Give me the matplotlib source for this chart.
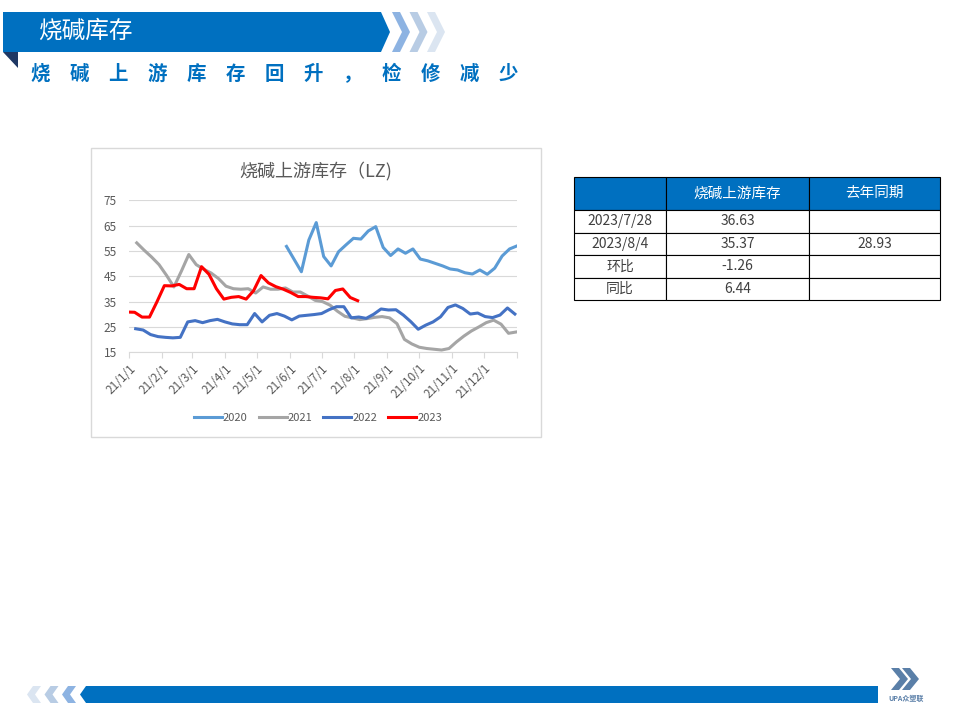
import matplotlib
matplotlib.use("Agg")
import pandas as pd
import matplotlib.pyplot as plt
from matplotlib.patches import Polygon, Rectangle

plt.rcParams['font.family'] = ['Noto Sans CJK SC', 'DejaVu Sans']

#-- data: weekly upstream inventory, every year laid on the 2021 calendar --
years = ['2020', '2021', '2022', '2023']
colors = ['#5B9BD5', '#A5A5A5', '#4472C4', '#FF0000']
starts = ['2021-05-29', '2021-01-08', '2021-01-07', '2020-12-30']

inv_2020 = [56.8, 51.8, 46.8, 59.3, 66.2, 52.8, 49.1, 54.7, 57.4, 60.0,
            59.7, 62.9, 64.6, 56.4, 53.2, 55.8, 54.1, 55.8, 51.8, 51.1,
            50.1, 49.1, 47.9, 47.5, 46.4, 45.9, 47.5, 45.8, 48.2, 53.0,
            55.8, 57.0]
inv_2021 = [58.2, 55.3, 52.6, 49.6, 45.4, 40.8, 47.0, 53.6, 49.6, 47.8,
            46.3, 44.1, 41.1, 40.1, 39.9, 40.1, 38.4, 40.8, 39.9, 39.9,
            40.4, 38.8, 38.8, 37.2, 35.5, 35.0, 33.6, 31.2, 29.2, 28.6,
            27.9, 28.3, 28.8, 29.1, 28.6, 26.3, 20.1, 18.3, 17.0, 16.5,
            16.2, 15.9, 16.5, 19.1, 21.4, 23.4, 25.0, 26.7, 27.7, 26.1,
            22.5, 23.0]
inv_2022 = [24.3, 23.8, 22.0, 21.2, 20.9, 20.7, 20.9, 27.0, 27.5, 26.7,
            27.5, 28.0, 27.0, 26.2, 25.9, 25.9, 30.3, 27.0, 29.6, 30.3,
            29.3, 27.8, 29.3, 29.6, 29.9, 30.3, 31.8, 33.0, 33.0, 28.6,
            28.93, 28.4, 30.0, 32.1, 31.7, 31.8, 29.7, 27.1, 24.1, 25.7,
            27.0, 29.0, 32.7, 33.7, 32.3, 30.1, 30.5, 29.1, 28.7, 29.7,
            32.5, 30.1]
inv_2023 = [30.9, 30.8, 28.9, 28.9, 34.9, 41.3, 41.2, 41.8, 40.1, 40.1,
            48.8, 45.8, 40.1, 36.0, 36.7, 37.0, 36.0, 39.3, 45.3, 42.4,
            40.9, 39.9, 38.6, 37.0, 37.0, 36.7, 36.5, 36.1, 39.4, 40.0,
            36.63, 35.37]
series = [inv_2020, inv_2021, inv_2022, inv_2023]

tbl_cols = ['', '烧碱上游库存', '去年同期']
tbl_rows = [['2023/7/28', '36.63', ''],
            ['2023/8/4', '35.37', '28.93'],
            ['环比', '-1.26', ''],
            ['同比', '6.44', '']]

BLUE = '#0070C0'
GREY_TXT = '#595959'

fig = plt.figure(figsize=(9.6, 7.2), dpi=100)

#-- page decoration, drawn in pixel coordinates --------------------------
bg = fig.add_axes([0, 0, 1, 1], zorder=0)
bg.set_xlim(0, 960)
bg.set_ylim(720, 0)
bg.axis('off')

bg.add_patch(Polygon([(3, 12), (381, 12), (390, 32), (381, 52), (3, 52)],
                     color=BLUE, lw=0))
bg.add_patch(Polygon([(3, 52), (18, 52), (18, 68)], color='#1F3864', lw=0))
for i, c in enumerate(['#8DB3E2', '#B8CCE4', '#DBE5F1']):
    x0 = 392 + i * 17.5
    bg.add_patch(Polygon([(x0, 12), (x0 + 8, 12), (x0 + 18, 32), (x0 + 8, 52),
                          (x0, 52), (x0 + 10, 32)], color=c, lw=0))
bg.text(38, 31, '烧碱库存', color='white', fontsize=17, ha='left', va='center')
bg.text(31, 74, '　'.join('烧碱上游库存回升，检修减少'), color=BLUE,
        fontsize=14, fontweight='bold', ha='left', va='center')

# footer
bg.add_patch(Polygon([(86, 686), (878, 686), (878, 703), (86, 703), (80, 694.5)],
                     color=BLUE, lw=0))
for i, c in enumerate(['#DBE5F1', '#B8CCE4', '#8DB3E2']):
    x0 = 27 + i * 17.5
    bg.add_patch(Polygon([(x0, 694.5), (x0 + 6, 686), (x0 + 14, 686), (x0 + 8, 694.5),
                          (x0 + 14, 703), (x0 + 6, 703)], color=c, lw=0))
for x0 in (891, 902):
    bg.add_patch(Polygon([(x0, 668), (x0 + 8, 668), (x0 + 17, 679), (x0 + 8, 690),
                          (x0, 690), (x0 + 9, 679)], color='#5A7FA8', lw=0))
bg.text(906, 698, 'UPA众塑联', color='#5A7FA8', fontsize=5, fontweight='bold',
        ha='center', va='center')

# chart frame + title
bg.add_patch(Rectangle((91, 148), 450, 289, fill=False, edgecolor='#D9D9D9', lw=1))
bg.text(316, 171, '烧碱上游库存（LZ)', color=GREY_TXT, fontsize=13,
        ha='center', va='center')

#-- line chart ----------------------------------------------------------
ax = fig.add_axes([129.3 / 960, 1 - 352.3 / 720, 387.7 / 960, 152 / 720], zorder=2)
ax.patch.set_alpha(0)
for yr, vals, c, st in zip(years, series, colors, starts):
    dates = pd.date_range(st, periods=len(vals), freq='7D')
    ax.plot(dates, vals, color=c, lw=2.2, label=yr, solid_joinstyle='round')

ax.set_xlim(pd.Timestamp('2021-01-01'), pd.Timestamp('2022-01-01'))
ax.set_ylim(15, 75)
ax.set_yticks(range(15, 76, 10))
ticks = pd.date_range('2021-01-01', '2022-01-01', freq='MS')
ax.set_xticks(ticks)
ax.set_xticklabels(['{}/{}/{}'.format(d.year % 100, d.month, d.day) for d in ticks[:-1]] + [''],
                   rotation=45, ha='right', va='top', rotation_mode='anchor')
ax.grid(axis='y', color='#D9D9D9', lw=0.8)
ax.set_axisbelow(True)
for s in ('top', 'right', 'left'):
    ax.spines[s].set_visible(False)
ax.spines['bottom'].set_color('#D9D9D9')
ax.tick_params(axis='x', length=4, color='#D9D9D9', labelsize=8.5,
               labelcolor=GREY_TXT, pad=3)
ax.tick_params(axis='y', length=0, labelsize=8.5, labelcolor=GREY_TXT, pad=9)

ax.legend(loc='center', bbox_to_anchor=(318 / 960, 1 - 417.7 / 720),
          bbox_transform=fig.transFigure, ncol=4, frameon=False, fontsize=8,
          handlelength=2.5, handletextpad=0.1, columnspacing=1.0,
          labelcolor=GREY_TXT)

#-- summary table ---------------------------------------------------------
tax = fig.add_axes([574 / 960, 1 - 300 / 720, 366 / 960, 123.3 / 720], zorder=2)
tax.axis('off')
tb = tax.table(cellText=[tbl_cols] + tbl_rows, cellLoc='center',
               colWidths=[92, 143, 131], bbox=[0, 0, 1, 1])
tb.auto_set_font_size(False)
for (r, c), cell in tb.get_celld().items():
    cell.set_height(33.3 if r == 0 else 22.5)
    cell.set_edgecolor('black')
    cell.set_linewidth(0.8)
    if r == 0:
        cell.set_facecolor(BLUE)
        cell.get_text().set_color('white')
        cell.get_text().set_fontsize(10.5)
    else:
        cell.get_text().set_color('#404040')
        cell.get_text().set_fontsize(10)

fig.savefig('out.png', dpi=100)
